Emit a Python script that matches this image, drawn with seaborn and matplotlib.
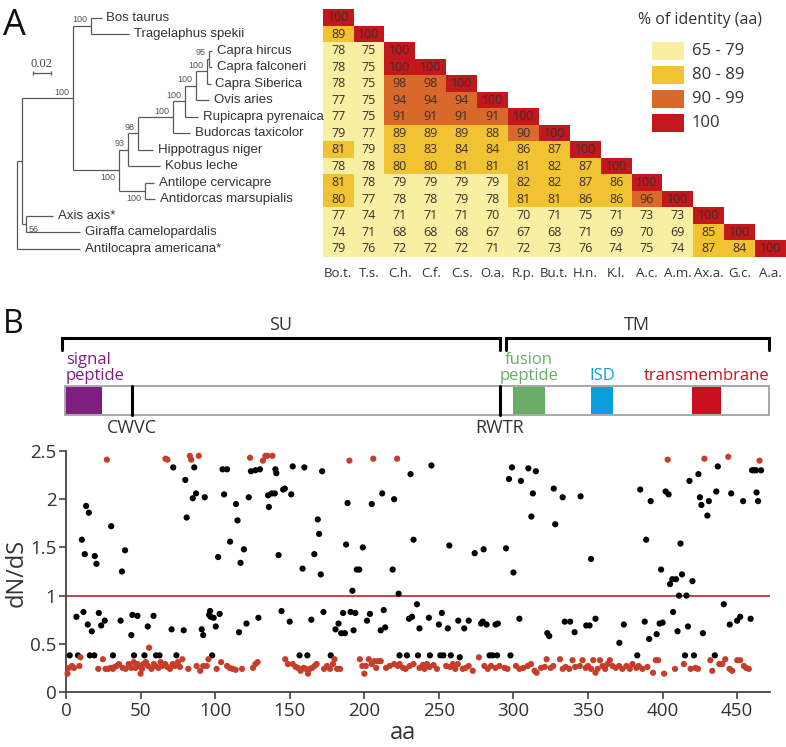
import numpy as np
import pandas as pd
import matplotlib
matplotlib.use("Agg")
import matplotlib.pyplot as plt
from matplotlib.colors import ListedColormap
from matplotlib.patches import Rectangle
import seaborn as sns

# ---------------- panel A data ----------------
abbrevs = ["Bo.t.", "T.s.", "C.h.", "C.f.", "C.s.", "O.a.", "R.p.", "Bu.t.",
           "H.n.", "K.l.", "A.c.", "A.m.", "Ax.a.", "G.c.", "A.a."]
identity = [
    [100],
    [89, 100],
    [78, 75, 100],
    [78, 75, 100, 100],
    [78, 75, 98, 98, 100],
    [77, 75, 94, 94, 94, 100],
    [77, 75, 91, 91, 91, 91, 100],
    [79, 77, 89, 89, 89, 88, 90, 100],
    [81, 79, 83, 83, 84, 84, 86, 87, 100],
    [78, 78, 80, 80, 81, 81, 81, 82, 87, 100],
    [81, 78, 79, 79, 79, 79, 82, 82, 87, 86, 100],
    [80, 77, 78, 78, 79, 78, 81, 81, 86, 86, 96, 100],
    [77, 74, 71, 71, 71, 70, 70, 71, 75, 71, 73, 73, 100],
    [74, 71, 68, 68, 68, 67, 67, 68, 71, 69, 70, 69, 85, 100],
    [79, 76, 72, 72, 72, 71, 72, 73, 76, 74, 75, 74, 87, 84, 100],
]
identity_bins = [80, 90, 100]
identity_colors = ["#F8EFA2", "#F1C232", "#D9682B", "#C1171D"]
identity_labels = ["65 - 79", "80 - 89", "90 - 99", "100"]

# tree: leaf = (name, branch length); node = (support, branch length, children, label side)
tree = ("", 0.0, [
    ("", 0.0048, [
        ("100", 0.0574, [
            ("100", 0.0193, [("Bos taurus", 0.0122), ("Tragelaphus spekii", 0.043)], "above"),
            ("100", 0.0511, [
                ("93", 0.010, [
                    ("98", 0.0104, [
                        ("100", 0.0389, [
                            ("100", 0.0137, [
                                ("100", 0.0122, [
                                    ("100", 0.0126, [
                                        ("95", 0.0019, [("Capra hircus", 0.003),
                                                        ("Capra falconeri", 0.003)], "above"),
                                        ("Capra Siberica", 0.0037)], "above"),
                                    ("Ovis aries", 0.0148)], "above"),
                                ("Rupicapra pyrenaica", 0.0148)], "above"),
                            ("Budorcas taxicolor", 0.0193)], "above"),
                        ("Hippotragus niger", 0.0174)], "above"),
                    ("Kobus leche", 0.0352)], "above"),
                ("100", 0.0285, [("Antilope cervicapre", 0.010),
                                 ("Antidorcas marsupialis", 0.0111)], "below"),
            ], "below"),
        ], "above"),
        ("56", 0.0048, [("Axis axis*", 0.0304), ("Giraffa camelopardalis", 0.060)], "right"),
    ], "none"),
    ("Antilocapra americana*", 0.0696),
], "none")
scale_bar = 0.02

# ---------------- panel B data ----------------
subunit_names = ["SU", "TM"]
subunit_start = [-3, 295]
subunit_end = [291, 471]
domain_names = ["signal\npeptide", "fusion\npeptide", "ISD", "transmembrane"]
domain_start = [0, 300, 352, 420]
domain_end = [24, 321, 367, 439]
domain_colors = ["#7D1E80", "#69AD67", "#0C9EDD", "#C8101E"]
motif_names = ["CWVC", "RWTR"]
motif_pos = [44, 291]
protein_length = 472

black_aa = [2.5, 8, 7, 10.6, 11.7, 12.6, 13.5, 15.3, 14.6, 17.3, 16, 19, 19.3, 20.4, 22, 23.6, 26, 30.3,
            31.5, 36.6, 37.5, 39.6, 43.8, 44.5, 47.9, 45.6, 52.6, 54.8, 58.7, 60.4, 62.7, 70.8, 71.9,
            74, 78.9, 80, 80.9, 85, 86, 87.2, 91, 92, 93, 96, 96.6, 97, 98, 99, 100.4, 102, 103, 105,
            108, 106, 110, 114, 115, 116, 117, 119.3, 121, 122.5, 124, 127, 130, 129, 136, 135.5, 138,
            140, 140.4, 141, 142.5, 144.5, 145.6, 146.7, 150, 151, 152, 156.6, 158.6, 159.8, 161.8,
            164.5, 166.5, 168.8, 169.7, 170.8, 171.7, 172.6, 177.5, 180.7, 182.7, 184.5, 187, 185.8,
            187.8, 188.8, 190.8, 192, 192.8, 194, 195, 196.6, 199, 201.8, 203.8, 205, 212, 211, 213,
            214, 219, 220, 223, 223.6, 228.6, 231, 233, 235.3, 230, 232, 237, 236, 243.3, 244, 245,
            250, 251, 253, 252, 256, 257, 258, 263, 264, 267, 270, 274, 278.3, 279.4, 282, 280, 284,
            286, 289, 288, 289.5, 295, 298, 297, 299, 300, 304, 305, 310, 312, 313, 315, 322.7, 324,
            327, 328, 333, 334.4, 338, 341, 345, 348.8, 351, 352, 355, 371, 374, 383, 385, 388, 389,
            391, 392, 396, 398, 400, 399, 402, 404, 405, 406.5, 409, 407, 410, 411, 416, 412, 413,
            415, 417, 418, 420, 421, 424, 425, 426, 427, 430, 431, 435, 436, 437, 441, 445, 446, 450,
            452, 454, 459, 460, 461.5, 462.6, 463, 464, 466]
black_dnds = [0.38, 0.38, 0.78, 1.58, 0.83, 1.43, 1.93, 1.86, 0.70, 0.63, 0.38, 0.38, 1.41, 1.33,
              0.82, 0.69, 0.74, 1.72, 0.38, 0.74, 1.25, 1.47, 0.59, 0.80, 0.79, 0.38, 0.38, 0.68,
              0.79, 0.38, 0.38, 0.65, 2.33, 0.38, 0.64, 2.20, 1.81, 2.01, 2.33, 2.06, 0.65, 0.59,
              2.02, 0.80, 0.84, 0.78, 0.38, 0.77, 0.68, 1.40, 0.81, 2.31, 2.31, 2.05, 1.56, 1.95,
              1.78, 0.62, 1.34, 1.48, 0.71, 2.02, 2.29, 2.30, 2.31, 0.77, 1.92, 2.04, 2.06, 2.06,
              2.31, 2.27, 1.42, 0.84, 2.10, 2.11, 0.73, 2.05, 2.34, 0.38, 1.28, 2.33, 0.38, 0.75,
              1.43, 1.79, 1.64, 1.22, 2.29, 0.83, 0.38, 0.65, 0.71, 0.61, 0.61, 0.82, 1.53, 1.96,
              0.83, 1.05, 0.64, 0.82, 1.27, 1.27, 1.50, 0.74, 0.81, 1.95, 2.06, 0.64, 0.85, 0.67,
              1.27, 2.00, 1.02, 0.38, 0.38, 2.26, 1.58, 0.91, 0.76, 0.78, 0.66, 0.38, 0.77, 0.38,
              2.35, 0.70, 0.38, 0.38, 0.82, 0.66, 1.52, 0.38, 0.74, 0.36, 0.66, 0.74, 1.44, 0.71,
              0.73, 0.70, 1.48, 0.38, 0.38, 0.38, 0.70, 0.71, 1.49, 0.38, 2.21, 2.33, 1.24, 0.76,
              2.19, 2.32, 1.82, 2.06, 2.29, 0.61, 0.58, 2.11, 1.74, 2.02, 0.73, 0.73, 0.62, 2.03,
              0.69, 0.69, 1.38, 0.76, 0.51, 0.70, 0.38, 2.10, 0.73, 1.58, 0.55, 1.98, 0.60, 0.71,
              0.72, 1.27, 2.08, 2.05, 1.12, 1.17, 1.17, 0.83, 0.63, 1.00, 1.00, 1.54, 1.22, 0.38,
              0.68, 2.19, 1.15, 0.38, 2.26, 2.02, 1.94, 0.61, 1.83, 1.98, 0.38, 2.08, 2.34, 0.91,
              0.70, 2.06, 0.74, 0.78, 1.98, 0.76, 2.30, 2.30, 2.30, 2.07, 1.98, 2.30]

red_aa = [27.4, 66.7, 68, 83, 84, 89, 123.4, 132, 133.7, 135, 138.4, 190, 206, 222, 403.4, 428, 444, 465,
          1, 2, 4, 5.4, 9, 9.7, 21.6, 24.7, 26.5, 28.3, 30, 31.5, 32.6, 34, 35.5, 38, 40, 42, 43.8,
          45.4, 46.7, 48, 49, 50, 51, 52, 53.5, 55, 55.7, 57.3, 59, 60, 62, 63.4, 64.7, 66.5, 67.9,
          69.7, 71.5, 73, 75, 76.4, 78, 82, 87.6, 90, 92, 94.4, 95.5, 101, 104, 108, 109.7, 111.7,
          113.7, 118, 125.4, 127, 128.5, 147, 148.8, 152, 154, 155.5, 157.3, 159.3, 160.7, 162.2,
          163.6, 165, 166.7, 168, 173, 175, 177, 179, 180, 181.8, 183.8, 197, 198.7, 200, 201, 203,
          205, 206.7, 208, 209, 211, 214.6, 217, 220, 222.5,
          223.7, 226, 227.7, 230.4, 233, 237, 239.3, 240.4, 242, 243.8, 246.4, 248.7, 254.9, 257.6,
          259.4, 261, 262.7, 266, 268, 270, 272.7, 276.8, 280.5, 282.8, 285, 288, 290.6, 294, 296,
          301.7, 304, 306.6, 309.5, 311.8, 314.2, 315.5, 318.5, 321, 322.2, 325, 326.7, 331.2, 333,
          335, 337.4, 339.6, 341.4, 344.5, 346.3, 348.5, 350, 352, 353.5, 355, 356.4, 358, 359.7,
          361.5, 363, 364.6, 366.4, 368.6, 370.8, 373, 375.8, 378, 379.8, 382.4, 384, 386.5, 389.8,
          393.6, 395.4, 397, 401, 408.3, 414.3, 418.8, 422, 423.7, 432, 433.3, 438, 440, 442, 444.9,
          446.6, 450, 452, 454.5, 456, 457.8]
red_dnds = [2.41, 2.42, 2.41, 2.45, 2.41, 2.45, 2.43, 2.40, 2.45, 2.45, 2.45, 2.40, 2.42, 2.42, 2.41,
            2.42, 2.44, 2.40,
            0.19, 0.25, 0.27, 0.25, 0.27, 0.36, 0.24, 0.34, 0.24, 0.24, 0.25, 0.24, 0.26, 0.27, 0.29,
            0.25, 0.24, 0.29, 0.25, 0.31, 0.25, 0.29, 0.27, 0.19, 0.24, 0.29, 0.31, 0.27, 0.46, 0.24,
            0.29, 0.27, 0.25, 0.31, 0.27, 0.29, 0.26, 0.24, 0.29, 0.27, 0.31, 0.26, 0.34, 0.24, 0.27,
            0.22, 0.27, 0.27, 0.34, 0.24, 0.31, 0.27, 0.25, 0.24, 0.23, 0.24, 0.25, 0.29, 0.31, 0.34,
            0.29, 0.29, 0.26, 0.25, 0.22, 0.25, 0.24, 0.19, 0.24, 0.25, 0.27, 0.29, 0.24, 0.27, 0.24,
            0.29, 0.34, 0.24, 0.24, 0.34, 0.27, 0.19, 0.27, 0.34, 0.29, 0.32, 0.25, 0.32, 0.32, 0.25,
            0.27, 0.29, 0.27,
            0.29, 0.25, 0.24, 0.27, 0.29, 0.25, 0.28, 0.24, 0.29, 0.26, 0.28, 0.24, 0.27, 0.26, 0.29,
            0.24, 0.29, 0.24, 0.25, 0.27, 0.22, 0.36, 0.27, 0.24, 0.27, 0.25, 0.27, 0.25, 0.24, 0.27,
            0.24, 0.25, 0.27, 0.29, 0.22, 0.20, 0.25, 0.26, 0.34, 0.25, 0.27, 0.34, 0.24, 0.26, 0.24,
            0.33, 0.26, 0.27, 0.33, 0.25, 0.27, 0.24, 0.33, 0.20, 0.24, 0.33, 0.27, 0.24, 0.29, 0.33,
            0.27, 0.25, 0.27, 0.24, 0.27, 0.24, 0.29, 0.25, 0.27, 0.24, 0.26, 0.20, 0.33, 0.33, 0.19,
            0.24, 0.29, 0.24, 0.25, 0.24, 0.33, 0.22, 0.29, 0.29, 0.34, 0.24, 0.22, 0.33, 0.33, 0.27,
            0.25, 0.24]

# ---------------- figure ----------------
sns.set_theme(style="white")
plt.rcParams["font.family"] = ["Liberation Sans", "DejaVu Sans"]
SANS = ["Open Sans", "DejaVu Sans"]
INK = "#333333"

W, H = 786, 747
fig = plt.figure(figsize=(W / 100, H / 100), dpi=100)


def box(left, top, right, bottom):
    # pixel box -> figure fraction [l, b, w, h]
    return [left / W, 1 - bottom / H, (right - left) / W, (bottom - top) / H]


# identity heatmap
n = len(abbrevs)
values = np.full((n, n), np.nan)
for i, row in enumerate(identity):
    values[i, :len(row)] = row
mask = np.isnan(values)
classes = np.digitize(np.nan_to_num(values), identity_bins).astype(float)

ax_hm = fig.add_axes(box(322.7, 9.3, 786, 257))
sns.heatmap(classes, mask=mask, cmap=ListedColormap(identity_colors), vmin=-0.5, vmax=3.5,
            annot=values, fmt=".0f",
            annot_kws={"fontsize": 9, "color": "#3b2f2a", "family": SANS},
            cbar=False, xticklabels=abbrevs, yticklabels=False, ax=ax_hm)
ax_hm.tick_params(axis="x", length=0, pad=7, labelsize=9.5, labelcolor=INK, rotation=0)
for t in ax_hm.get_xticklabels():
    t.set_fontfamily(SANS)

# phylogenetic tree
ax_tree = fig.add_axes(box(0, 9.3, 322, 257))
ax_tree.set_xlim(-17.3 / 900, (322 - 17.3) / 900)
ax_tree.set_ylim(n, 0)
ax_tree.axis("off")
line_kw = dict(color="#5a5a5a", lw=0.9, solid_capstyle="butt")
leaf_rows = iter(range(n))


def draw(node, x_parent):
    x = x_parent + node[1]
    if len(node) == 2:
        y = next(leaf_rows) + 0.5
        ax_tree.plot([x_parent, x], [y, y], **line_kw)
        ax_tree.annotate(node[0], (x, y), xytext=(3.5, 0), textcoords="offset points",
                         va="center", ha="left", fontsize=9.5, color=INK)
        return y
    ys = [draw(child, x) for child in node[2]]
    y = (ys[0] + ys[-1]) / 2
    ax_tree.plot([x, x], [ys[0], ys[-1]], **line_kw)
    ax_tree.plot([x_parent, x], [y, y], **line_kw)
    side = node[3]
    kw = dict(textcoords="offset points", fontsize=6.5, color="#555555")
    if side == "above":
        ax_tree.annotate(node[0], (x, y), xytext=(-2.5, 1), ha="right", va="bottom", **kw)
    elif side == "below":
        ax_tree.annotate(node[0], (x, y), xytext=(-2.5, -2), ha="right", va="top", **kw)
    elif side == "right":
        ax_tree.annotate(node[0], (x, y), xytext=(2, -1), ha="left", va="top", **kw)
    return y


draw(tree, 0.0)

sb_x0, sb_y = 0.0174, 3.86
ax_tree.plot([sb_x0, sb_x0 + scale_bar], [sb_y, sb_y], **line_kw)
for xe in (sb_x0, sb_x0 + scale_bar):
    ax_tree.plot([xe, xe], [sb_y - 0.12, sb_y + 0.12], **line_kw)
ax_tree.annotate(f"{scale_bar:.2f}", (sb_x0 + scale_bar / 2, sb_y), xytext=(0, 2),
                 textcoords="offset points", ha="center", va="bottom", fontsize=9,
                 family=["Liberation Serif", "DejaVu Serif"], color="#444444")

# panel B: protein domain map
ax_dom = fig.add_axes(box(66, 300, 770, 440))
ax_dom.set_xlim(0, protein_length)
ax_dom.set_ylim(140, 0)
ax_dom.axis("off")
for name, s, e in zip(subunit_names, subunit_start, subunit_end):
    ax_dom.plot([s, s, e, e], [50, 38, 38, 50], color="black", lw=2.2, clip_on=False,
                solid_joinstyle="miter")
    ax_dom.text((s + e) / 2, 25, name, ha="center", va="center", fontsize=13,
                family=SANS, color=INK)
ax_dom.add_patch(Rectangle((-1, 86), protein_length, 29, facecolor="white",
                           edgecolor="#9a9a9a", lw=1.2, clip_on=False))
for name, s, e, c in zip(domain_names, domain_start, domain_end, domain_colors):
    ax_dom.add_patch(Rectangle((s, 86.6), e - s, 27.8, facecolor=c, edgecolor="none",
                               clip_on=False))
    if s == 0:
        ax_dom.text(s, 84, name, ha="left", va="bottom", fontsize=12, color=c,
                    family=SANS, linespacing=1.0)
    else:
        ax_dom.text((s + e) / 2, 84, name, ha="center", va="bottom", fontsize=12, color=c,
                    family=SANS, linespacing=1.0)
for name, p in zip(motif_names, motif_pos):
    ax_dom.plot([p, p], [86, 115], color="black", lw=2.2)
    ax_dom.text(p, 128, name, ha="center", va="center", fontsize=13, family=SANS, color=INK)

# panel B: dN/dS scatter
sites = pd.DataFrame({
    "aa": black_aa + red_aa,
    "dnds": black_dnds + red_dnds,
    "group": ["other"] * len(black_aa) + ["selected"] * len(red_aa),
})
ax_sc = fig.add_axes(box(66, 451, 770, 692))
ax_sc.axhline(1, color="#C0202A", lw=1.2, zorder=1)
sns.scatterplot(data=sites, x="aa", y="dnds", hue="group",
                palette={"other": "black", "selected": "#C83C2A"},
                s=20, linewidth=0, legend=False, clip_on=False, zorder=3, ax=ax_sc)
ax_sc.set_xlim(0, protein_length)
ax_sc.set_ylim(0, 2.5)
ax_sc.set_xticks(range(0, 451, 50))
ax_sc.set_yticks([0, 0.5, 1, 1.5, 2, 2.5])
ax_sc.set_yticklabels(["0", "0.5", "1", "1.5", "2", "2.5"])
sns.despine(ax=ax_sc)
for sp in ("left", "bottom"):
    ax_sc.spines[sp].set_color("#444444")
    ax_sc.spines[sp].set_linewidth(1.3)
ax_sc.tick_params(direction="out", length=5, width=1.2, color="#444444",
                  labelsize=13.5, labelcolor=INK, pad=2, bottom=True, left=True)
for t in ax_sc.get_xticklabels() + ax_sc.get_yticklabels():
    t.set_fontfamily(SANS)
ax_sc.set_xlabel("aa", fontsize=17, family=SANS, color=INK, va="center")
ax_sc.set_ylabel("dN/dS", fontsize=17, family=SANS, color=INK, va="center")
ax_sc.xaxis.set_label_coords(0.479, -0.17)
ax_sc.yaxis.set_label_coords(-0.07, 0.494)

# overlay: panel letters and identity legend
ov = fig.add_axes([0, 0, 1, 1])
ov.set_xlim(0, W)
ov.set_ylim(H, 0)
ov.axis("off")
ov.text(3, 8, "A", fontsize=26, va="top", ha="left", color="#111111", family=SANS)
ov.text(3, 308, "B", fontsize=23, va="top", ha="left", color="#111111", family=SANS)
ov.text(700, 20, "% of identity (aa)", ha="center", va="center", fontsize=11.5,
        family=SANS, color=INK)
for k, (lab, col) in enumerate(zip(identity_labels, identity_colors)):
    top = 42 + 24 * k
    ov.add_patch(Rectangle((652, top), 32, 18, facecolor=col, edgecolor="none"))
    ov.text(692, top + 9, lab, ha="left", va="center", fontsize=12, family=SANS, color=INK)

fig.savefig("out.png", dpi=100)
